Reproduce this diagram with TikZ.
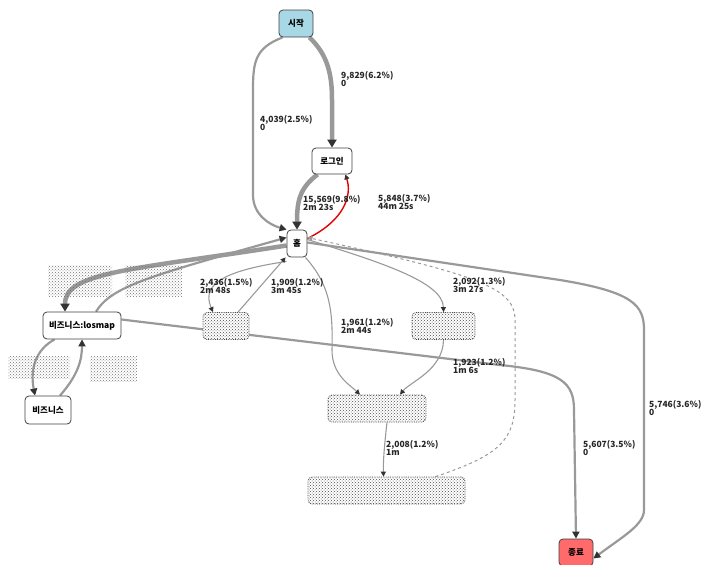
\documentclass[tikz,border=0pt]{standalone}
\usepackage{fontspec}
\setmainfont{Noto Sans CJK KR}
\usetikzlibrary{arrows.meta,patterns}
\pgfdeclarelayer{bg}
\pgfsetlayers{bg,main}
\definecolor{edgegray}{HTML}{999999}
\definecolor{tipgray}{HTML}{333333}
\definecolor{startblue}{HTML}{A8D8E6}
\definecolor{endred}{HTML}{FF6B6B}
\tikzset{
  box/.style={draw=black!75, line width=0.8pt, rounded corners=4pt, fill=white,
    font=\bfseries\fontsize{8.5}{9}\selectfont, inner sep=0pt, minimum height=27pt},
  hidden/.style={draw=black!70, densely dotted, line width=0.8pt, rounded corners=4pt, fill=white,
    postaction={pattern=crosshatch dots, pattern color=black!70}, minimum height=27pt, inner sep=0pt},
  noise/.style={pattern=crosshatch dots, pattern color=black!55},
  edge/.style={draw=edgegray, line width=1.1pt, -{Triangle[length=5pt,width=5pt,color=tipgray]}},
  medge/.style={draw=edgegray, line width=2.2pt, -{Triangle[length=7pt,width=7pt,color=tipgray]}},
  tedge/.style={draw=edgegray, line width=4.5pt, -{Triangle[length=8pt,width=9pt,color=tipgray]}},
  lbl/.style={anchor=north west, align=left, inner sep=0pt, font=\bfseries\fontsize{8.5}{8.5}\selectfont, text=black!85},
}
\begin{document}
\begin{tikzpicture}[x=1pt,y=-1pt]
\useasboundingbox (0,0) rectangle (702,565);
% nodes
\node[box, fill=startblue, minimum width=34pt] (start) at (296,23.5) {시작};
\node[box, minimum width=40pt, minimum height=26pt] (login) at (332,161) {로그인};
\node[box, minimum width=20pt] (home) at (297,243.5) {홈};
\node[box, minimum width=78pt] (losmap) at (82,325.5) {비즈니스:losmap};
\node[box, minimum width=46pt, minimum height=28pt] (biz) at (48,410) {비즈니스};
\node[hidden, minimum width=46pt] (ha) at (226,326) {};
\node[hidden, minimum width=63pt] (hb) at (443.5,326) {};
\node[hidden, minimum width=98pt] (hc) at (377,408.5) {};
\node[hidden, minimum width=157pt] (hd) at (386.5,490.5) {};
\node[box, fill=endred, minimum width=34pt, minimum height=27pt] (end) at (576,552.5) {종료};
% obscured labels
\fill[noise] (48,265) rectangle (112,296);
\fill[noise] (125,265) rectangle (182,296);
\fill[noise] (8,356) rectangle (70,378);
\fill[noise] (90,356) rectangle (137,381);
\begin{pgfonlayer}{bg}
% start -> home
\draw[medge] (start.south west) ++(4,0) .. controls (255,48) and (253,62) .. (253,90) -- (253,195) .. controls (253,215) and (270,225) .. (home.north west);
% start -> login
\draw[tedge] (start.south east) ++(-4,0) .. controls (328,55) and (332,75) .. (332,100) -- (login.north);
% login -> home
\draw[tedge] (login.south west) ++(6,0) .. controls (300,188) and (297,200) .. (home.north);
% home -> login (red)
\draw[draw=red!90!black, line width=1.4pt, -{Triangle[length=5pt,width=5pt,color=tipgray]}] (home.east) ++(0,-5) .. controls (345,220) and (352,195) .. ([xshift=-7pt]login.south east);
% home -> losmap
\draw[tedge] (home.west) ++(0,2) .. controls (130,270) and (65,272) .. ([xshift=-17pt]losmap.north);
% losmap -> home
\draw[medge] ([xshift=14pt]losmap.north) .. controls (112,286) and (150,276) .. ([yshift=6pt]home.west);
% home -> ha
\draw[edge] ([yshift=-4pt]home.south west) .. controls (230,270) and (200,282) .. ([xshift=-13pt]ha.north);
% ha -> home
\draw[edge] ([xshift=12pt]ha.north) -- ([xshift=-1pt]home.south west);
% home -> hc
\draw[edge] (home.south east) ++(-2,0) .. controls (330,285) and (333,310) .. (332,350) .. controls (332,375) and (350,385) .. ([xshift=-17pt]hc.north);
% home -> hb
\draw[edge] ([yshift=4pt]home.east) .. controls (380,262) and (443,282) .. (hb.north);
% hb -> hc
\draw[edge] (hb.south) .. controls (443,370) and (410,382) .. ([xshift=23pt]hc.north);
% hc -> hd
\draw[edge] ([xshift=10pt]hc.south) .. controls (385,440) and (383,460) .. ([xshift=-3pt]hd.north);
% hd -> home dashed
\draw[draw=edgegray, line width=1pt, dashed, -{Triangle[length=5pt,width=5pt,color=edgegray]}] ([xshift=49pt]hd.north) .. controls (500,455) and (515,440) .. (515,400) -- (515,320) .. controls (515,288) and (480,275) .. ([yshift=6pt]home.east);
% losmap -> end
\draw[medge] ([yshift=6pt]losmap.east) -- (500,365) .. controls (562,371) and (574,383) .. (574,410) -- (end.north);
% home -> end
\draw[medge] ([yshift=1pt]home.east) -- (560,280) .. controls (633,292) and (644,305) .. (644,330) -- (644,510) .. controls (644,525) and (622,537) .. ([yshift=-6pt]end.east);
% losmap -> biz
\draw[medge] ([xshift=12pt]losmap.south west) .. controls (35,350) and (30,370) .. ([xshift=-13pt]biz.north);
% biz -> losmap
\draw[medge] ([xshift=12pt]biz.north) .. controls (78,375) and (82,360) .. (losmap.south);
\end{pgfonlayer}
% labels
\node[lbl] (l1) at (341,71) {9,829(6.2\%)\\0};
\node[lbl] (l2) at (260,115) {4,039(2.5\%)\\0};
\node[lbl] (l3) at (303,195) {15,569(9.8\%)\\2m 23s};
\node[lbl] (l4) at (378,194) {5,848(3.7\%)\\44m 25s};
\node[lbl] (l5) at (200,278) {2,436(1.5\%)\\2m 48s};
\node[lbl] (l6) at (271,278) {1,909(1.2\%)\\3m 45s};
\node[lbl] (l7) at (453,277) {2,092(1.3\%)\\3m 27s};
\node[lbl] (l8) at (341,318) {1,961(1.2\%)\\2m 44s};
\node[lbl] (l9) at (453,358) {1,923(1.2\%)\\1m 6s};
\node[lbl] (l10) at (386,440) {2,008(1.2\%)\\1m};
\node[lbl] (l11) at (583,440) {5,607(3.5\%)\\0};
\node[lbl] (l12) at (649,400) {5,746(3.6\%)\\0};
\end{tikzpicture}
\end{document}
